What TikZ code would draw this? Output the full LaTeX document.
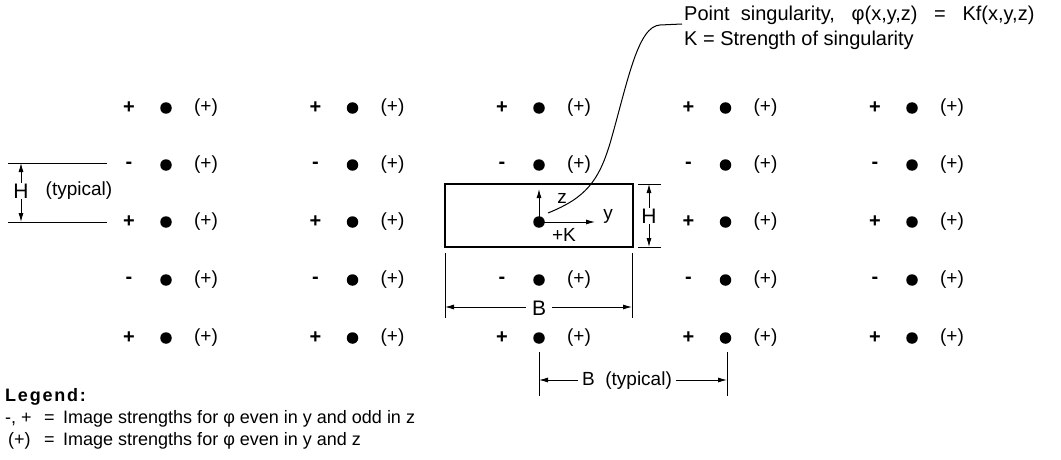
\documentclass[tikz,border=0pt]{standalone}
\usepackage{fontspec}
\setmainfont{Liberation Sans}
\usetikzlibrary{arrows.meta}
\begin{document}
\begin{tikzpicture}[x=1pt,y=-1pt,
  lbl/.style={font=\fontsize{19}{22}\selectfont, inner sep=0pt},
  leg/.style={font=\fontsize{18}{22}\selectfont, inner sep=0pt, anchor=west},
  sgn/.style={font=\fontsize{20}{22}\selectfont\bfseries, inner sep=0pt},
  big/.style={font=\fontsize{21}{24}\selectfont, inner sep=1pt, fill=white},
  dotn/.style={circle,fill=black,minimum size=11.5pt,inner sep=0pt},
  dim/.style={line width=0.9pt,{Latex[length=9pt,width=5pt]}-{Latex[length=9pt,width=5pt]}},
  ext/.style={line width=0.9pt},
  ]
\path[use as bounding box] (0,0) rectangle (1061,460);

% grid of images
\foreach \c/\x in {1/166,2/352.5,3/539,4/725.5,5/912} {
  \foreach \r/\y/\s in {1/108/+,2/165/-,3/222/+,4/280/-,5/338/+} {
    \node[dotn] (d\c\r) at (\x,\y) {};
    \ifnum\c\r=33\relax\else
      \node[sgn] (s\c\r) at (\x-37,\y) {\s};
      \node[lbl] (p\c\r) at (\x+40,\y) {(+)};
    \fi
  }
}

% box
\node[draw,line width=1.6pt,minimum width=188pt,minimum height=63pt,inner sep=0pt] (box) at (539,215.5) {};

% axes at singularity
\coordinate (zt) at (539,189);
\coordinate (yt) at (595,222);
\draw[line width=1pt,-{Latex[length=9pt,width=5pt]}] (d33.center) -- (zt);
\draw[line width=1pt,-{Latex[length=9pt,width=5pt]}] (d33.center) -- (yt);
\node[lbl] (zl) at (562,198) {z};
\node[lbl] (yl) at (608,216) {y};
\node[lbl] (kl) at (564,235) {+K};

% right H dimension
\coordinate (h1a) at (638,184);
\coordinate (h1b) at (661,184);
\coordinate (h2a) at (638,247);
\coordinate (h2b) at (661,247);
\draw[ext] (h1a) -- (h1b);
\draw[ext] (h2a) -- (h2b);
\coordinate (hr1) at (649,184);
\coordinate (hr2) at (649,247);
\draw[dim] (hr1) -- (hr2);
\node[big] (hr) at (649,216) {H};

% left H (typical)
\coordinate (l1a) at (8,163);
\coordinate (l1b) at (107,163);
\coordinate (l2a) at (8,222);
\coordinate (l2b) at (107,222);
\draw[ext] (l1a) -- (l1b);
\draw[ext] (l2a) -- (l2b);
\coordinate (hl1) at (21,163);
\coordinate (hl2) at (21,222);
\draw[dim] (hl1) -- (hl2);
\node[big] (hl) at (21,191) {H};
\node[lbl] (typ1) at (79,191) {(typical)};

% B dimension
\coordinate (b1t) at (445,253);
\coordinate (b1b) at (445,318);
\coordinate (b2t) at (632,253);
\coordinate (b2b) at (632,318);
\draw[ext] (b1t) -- (b1b);
\draw[ext] (b2t) -- (b2b);
\coordinate (ba) at (445,307);
\coordinate (bb) at (632,307);
\draw[dim] (ba) -- (bb);
\node[big,inner xsep=6pt] (bl) at (539,308) {B};

% B (typical)
\coordinate (t1t) at (539,352);
\coordinate (t1b) at (539,396);
\coordinate (t2t) at (727,352);
\coordinate (t2b) at (727,396);
\draw[ext] (t1t) -- (t1b);
\draw[ext] (t2t) -- (t2b);
\coordinate (ta) at (539,380);
\coordinate (tb) at (727,380);
\draw[dim] (ta) -- (tb);
\node[lbl,fill=white,inner xsep=4pt,inner ysep=2pt] (tl) at (627,381) {B\ \ (typical)};

% leader and annotation
\node[lbl,anchor=west,font=\fontsize{20}{22}\selectfont] (ps) at (684,15) {Point\ \ singularity,\ \ \ φ(x,y,z)\ \ \ =\ \ \ Kf(x,y,z)};
\node[lbl,anchor=west,font=\fontsize{20}{22}\selectfont] (ks) at (684,40) {K = Strength of singularity};
\coordinate (lead) at (548,213);
\coordinate (leadend) at (682,24);
\draw[line width=1pt] (lead) .. controls (585,198) and (599,182) .. (611,140)
  .. controls (628,80) and (638,26) .. (660,25) -- (leadend);

% legend
\node[leg] (lg) at (5,397) {\addfontfeature{LetterSpace=10}\textbf{Legend:}};
\node[leg] (l1s) at (5,419) {-, +};
\node[leg] (l1e) at (44,419) {=};
\node[leg] (l1t) at (63,419) {Image strengths for φ even in y and odd in z};
\node[leg] (l2s) at (8,441) {(+)};
\node[leg] (l2e) at (44,441) {=};
\node[leg] (l2t) at (63,441) {Image strengths for φ even in y and z};
\end{tikzpicture}
\end{document}
